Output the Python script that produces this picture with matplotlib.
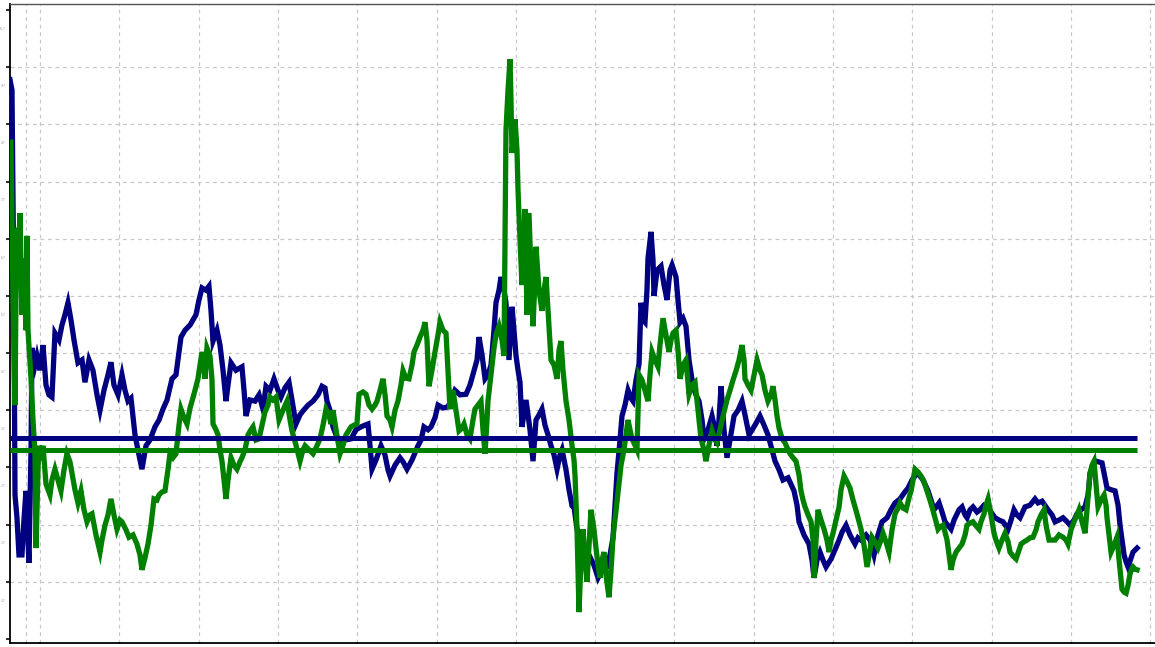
import matplotlib
matplotlib.use("Agg")
import matplotlib.pyplot as plt
import numpy as np

# time axis in years from the first full-year tick; values in chart units
navy_t = [-0.378, -0.353, -0.328, -0.315, -0.290, -0.265, -0.227, -0.202, -0.177, -0.151, -0.139, -0.113, -0.101,
          -0.063, -0.038, 0.000, 0.038, 0.076, 0.113, 0.151, 0.189, 0.240, 0.277, 0.315, 0.353, 0.391, 0.429, 0.479,
          0.530, 0.567, 0.618, 0.668, 0.719, 0.757, 0.807, 0.858, 0.895, 0.933, 0.984, 1.034, 1.072, 1.110, 1.148,
          1.198, 1.248, 1.286, 1.337, 1.387, 1.450, 1.501, 1.551, 1.602, 1.665, 1.715, 1.778, 1.829, 1.892, 1.967,
          2.005, 2.043, 2.093, 2.131, 2.156, 2.182, 2.232, 2.270, 2.308, 2.346, 2.371, 2.409, 2.472, 2.547, 2.573,
          2.598, 2.648, 2.711, 2.762, 2.812, 2.850, 2.900, 2.951, 3.001, 3.039, 3.089, 3.140, 3.178, 3.228, 3.279,
          3.317, 3.380, 3.443, 3.506, 3.556, 3.594, 3.619, 3.657, 3.695, 3.733, 3.783, 3.846, 3.922, 3.985, 4.048,
          4.098, 4.136, 4.161, 4.187, 4.237, 4.300, 4.350, 4.388, 4.414, 4.477, 4.540, 4.578, 4.628, 4.691, 4.767,
          4.805, 4.842, 4.893, 4.931, 4.981, 5.019, 5.082, 5.145, 5.195, 5.233, 5.296, 5.372, 5.422, 5.473, 5.511,
          5.536, 5.574, 5.612, 5.649, 5.687, 5.725, 5.750, 5.788, 5.813, 5.851, 5.876, 5.914, 5.952, 5.977, 6.003,
          6.028, 6.053, 6.078, 6.129, 6.179, 6.217, 6.255, 6.293, 6.330, 6.368, 6.406, 6.444, 6.482, 6.520, 6.557,
          6.583, 6.633, 6.671, 6.709, 6.734, 6.772, 6.822, 6.873, 6.923, 6.986, 7.037, 7.087, 7.150, 7.188, 7.226,
          7.276, 7.314, 7.339, 7.377, 7.415, 7.453, 7.478, 7.516, 7.554, 7.579, 7.604, 7.629, 7.654, 7.667, 7.705,
          7.730, 7.743, 7.781, 7.831, 7.869, 7.907, 7.945, 7.970, 8.020, 8.045, 8.071, 8.108, 8.146, 8.184, 8.235,
          8.272, 8.310, 8.348, 8.373, 8.424, 8.474, 8.512, 8.537, 8.562, 8.588, 8.625, 8.663, 8.701, 8.752, 8.802,
          8.852, 8.890, 8.941, 9.016, 9.079, 9.130, 9.180, 9.231, 9.269, 9.319, 9.369, 9.433, 9.508, 9.546, 9.571,
          9.634, 9.697, 9.735, 9.760, 9.798, 9.836, 9.874, 9.912, 9.975, 10.025, 10.076, 10.114, 10.164, 10.214,
          10.277, 10.315, 10.353, 10.416, 10.467, 10.517, 10.567, 10.618, 10.681, 10.731, 10.782, 10.845, 10.895,
          10.946, 10.996, 11.059, 11.097, 11.135, 11.198, 11.236, 11.274, 11.337, 11.375, 11.412, 11.488, 11.526,
          11.589, 11.627, 11.665, 11.690, 11.728, 11.765, 11.816, 11.854, 11.904, 11.955, 11.992, 12.043, 12.093,
          12.144, 12.207, 12.245, 12.282, 12.320, 12.358, 12.421, 12.484, 12.547, 12.585, 12.636, 12.711, 12.762,
          12.800, 12.850, 12.900, 12.951, 12.989, 13.039, 13.077, 13.127, 13.178, 13.216, 13.241, 13.279, 13.317,
          13.392, 13.430, 13.455, 13.506, 13.556, 13.594, 13.619, 13.644, 13.670, 13.695, 13.720, 13.758, 13.783,
          13.834]
navy_v = [9.78, 9.60, 5.93, 2.52, 2.12, 1.47, 1.47, 2.08, 2.59, 1.73, 1.33, 3.31, 5.09,
          4.79, 4.95, 4.70, 5.14, 4.44, 4.27, 4.23, 5.35, 5.23, 5.49, 5.67, 5.88, 5.58, 5.23, 4.83,
          4.88, 4.49, 4.88, 4.70, 4.27, 4.00, 4.35, 4.62, 4.84, 4.44, 4.27, 4.62, 4.35, 4.16, 4.21,
          3.57, 3.22, 2.97, 3.38, 3.48, 3.71, 3.83, 4.02, 4.18, 4.55, 4.62, 5.28, 5.40, 5.49, 5.67,
          5.93, 6.14, 6.10, 6.17, 5.75, 5.21, 5.40, 5.14, 4.70, 4.16, 4.44, 4.83, 4.70, 4.76, 4.35,
          3.90, 4.18, 4.16, 4.27, 4.02, 4.42, 4.35, 4.55, 4.35, 4.23, 4.39, 4.49, 4.18, 3.76, 3.92,
          3.99, 4.09, 4.16, 4.27, 4.42, 4.39, 4.16, 4.00, 3.71, 3.57, 3.43, 3.48, 3.50, 3.66, 3.71,
          3.74, 3.76, 3.39, 2.97, 3.13, 3.38, 3.22, 2.96, 2.85, 3.04, 3.17, 3.10, 2.97, 3.13, 3.38,
          3.48, 3.71, 3.66, 3.71, 3.87, 4.09, 4.04, 4.06, 4.21, 4.35, 4.27, 4.28, 4.44, 4.69, 4.88,
          5.28, 4.97, 4.55, 4.62, 4.79, 5.40, 5.88, 6.10, 6.33, 6.10, 5.88, 4.88, 5.81, 5.40, 4.95,
          4.70, 4.49, 3.71, 4.18, 3.66, 3.11, 3.83, 3.92, 4.02, 3.74, 3.57, 3.38, 3.22, 2.97, 3.22,
          3.31, 2.96, 2.61, 2.33, 2.31, 1.92, 1.64, 1.56, 1.47, 1.29, 1.07, 1.21, 1.26, 1.47, 1.78,
          2.90, 3.48, 3.90, 4.09, 4.35, 4.21, 4.16, 4.53, 4.81, 5.88, 5.58, 5.54, 6.10, 6.66, 7.12,
          6.63, 6.00, 6.45, 6.52, 6.19, 5.93, 6.45, 6.54, 6.33, 5.93, 5.54, 5.61, 5.47, 4.88, 4.42,
          4.27, 4.16, 3.83, 3.50, 3.66, 3.90, 3.66, 3.38, 3.83, 4.42, 3.66, 3.17, 3.48, 3.90, 4.00,
          4.16, 3.92, 3.57, 3.74, 3.90, 3.74, 3.57, 3.31, 3.11, 2.96, 2.78, 2.82, 2.59, 2.34, 2.05,
          1.82, 1.66, 1.38, 1.07, 1.38, 1.52, 1.38, 1.26, 1.40, 1.56, 1.73, 1.87, 1.99, 1.82,
          1.66, 1.77, 1.73, 1.82, 1.73, 1.47, 1.82, 2.05, 2.12, 2.26, 2.38, 2.45, 2.55,
          2.64, 2.78, 2.90, 2.85, 2.78, 2.59, 2.43, 2.26, 2.38, 2.22, 2.05, 1.92, 2.08,
          2.26, 2.31, 2.17, 2.12, 2.26, 2.31, 2.22, 2.26, 2.34, 2.31, 2.22, 2.12, 2.08,
          2.05, 1.92, 2.08, 2.26, 2.17, 2.12, 2.31, 2.34, 2.45, 2.38, 2.41, 2.26, 2.17,
          2.05, 2.08, 2.12, 2.05, 1.99, 2.08, 2.19, 2.26, 2.31, 2.52, 2.90, 3.04, 3.11,
          3.08, 2.82, 2.64, 2.61, 2.59, 2.34, 1.99, 1.73, 1.47, 1.35, 1.26, 1.42, 1.52,
          1.59]

green_t = [-0.366, -0.340, -0.315, -0.303, -0.290, -0.265, -0.252, -0.227, -0.202, -0.177, -0.164, -0.151, -0.113,
           -0.088, -0.063, -0.050, -0.025, -0.013, 0.013, 0.038, 0.076, 0.126, 0.151, 0.189, 0.227, 0.265, 0.303,
           0.340, 0.378, 0.404, 0.441, 0.479, 0.517, 0.555, 0.593, 0.631, 0.656, 0.706, 0.757, 0.782, 0.820, 0.858,
           0.895, 0.933, 0.971, 1.009, 1.034, 1.084, 1.122, 1.173, 1.223, 1.261, 1.286, 1.324, 1.362, 1.400, 1.438,
           1.475, 1.501, 1.538, 1.576, 1.614, 1.639, 1.677, 1.715, 1.753, 1.778, 1.816, 1.854, 1.892, 1.917, 1.955,
           1.992, 2.018, 2.043, 2.068, 2.081, 2.106, 2.144, 2.169, 2.182, 2.219, 2.245, 2.270, 2.295, 2.320, 2.346,
           2.371, 2.409, 2.446, 2.484, 2.522, 2.547, 2.585, 2.623, 2.661, 2.686, 2.724, 2.762, 2.800, 2.837, 2.875,
           2.900, 2.938, 2.976, 3.014, 3.064, 3.115, 3.153, 3.178, 3.228, 3.279, 3.317, 3.342, 3.392, 3.443, 3.480,
           3.531, 3.569, 3.607, 3.644, 3.670, 3.695, 3.733, 3.783, 3.821, 3.859, 3.922, 3.960, 3.997, 4.023, 4.073,
           4.111, 4.149, 4.187, 4.224, 4.250, 4.288, 4.325, 4.351, 4.376, 4.414, 4.439, 4.477, 4.514, 4.552, 4.578,
           4.615, 4.653, 4.691, 4.716, 4.754, 4.792, 4.830, 4.855, 4.880, 4.905, 4.943, 4.981, 5.019, 5.044, 5.082,
           5.120, 5.145, 5.170, 5.208, 5.246, 5.284, 5.322, 5.347, 5.385, 5.422, 5.460, 5.485, 5.523, 5.561, 5.586,
           5.612, 5.637, 5.649, 5.687, 5.725, 5.750, 5.788, 5.826, 5.851, 5.876, 5.902, 5.927, 5.939, 5.952, 5.977,
           5.990, 6.015, 6.028, 6.053, 6.078, 6.103, 6.116, 6.129, 6.141, 6.166, 6.192, 6.217, 6.242, 6.255, 6.293,
           6.330, 6.356, 6.381, 6.406, 6.444, 6.482, 6.520, 6.545, 6.570, 6.595, 6.633, 6.671, 6.709, 6.734, 6.747,
           6.772, 6.797, 6.822, 6.847, 6.873, 6.898, 6.923, 6.948, 6.986, 7.011, 7.037, 7.062, 7.087, 7.112, 7.137,
           7.175, 7.201, 7.226, 7.264, 7.301, 7.327, 7.364, 7.390, 7.415, 7.440, 7.465, 7.503, 7.528, 7.554, 7.591,
           7.629, 7.667, 7.692, 7.718, 7.755, 7.793, 7.818, 7.856, 7.894, 7.932, 7.957, 7.982, 8.020, 8.045, 8.071,
           8.108, 8.146, 8.184, 8.222, 8.260, 8.298, 8.335, 8.373, 8.398, 8.436, 8.474, 8.512, 8.537, 8.575, 8.613,
           8.663, 8.701, 8.739, 8.777, 8.815, 8.852, 8.878, 8.890, 8.928, 8.966, 9.004, 9.042, 9.079, 9.105, 9.142,
           9.180, 9.218, 9.243, 9.269, 9.294, 9.319, 9.344, 9.369, 9.395, 9.433, 9.458, 9.496, 9.533, 9.571, 9.596,
           9.622, 9.647, 9.685, 9.723, 9.748, 9.760, 9.786, 9.811, 9.849, 9.887, 9.924, 9.950, 9.975, 10.000,
           10.038, 10.076, 10.101, 10.139, 10.177, 10.214, 10.252, 10.277, 10.315, 10.353, 10.391, 10.429, 10.467,
           10.492, 10.530, 10.567, 10.605, 10.630, 10.668, 10.706, 10.744, 10.782, 10.820, 10.845, 10.883, 10.921,
           10.958, 10.984, 11.009, 11.034, 11.072, 11.110, 11.148, 11.173, 11.211, 11.248, 11.286, 11.324, 11.349,
           11.387, 11.412, 11.438, 11.463, 11.488, 11.513, 11.551, 11.589, 11.627, 11.665, 11.690, 11.728, 11.765,
           11.803, 11.841, 11.866, 11.904, 11.929, 11.955, 11.992, 12.030, 12.055, 12.093, 12.131, 12.169, 12.207,
           12.232, 12.270, 12.308, 12.346, 12.371, 12.409, 12.446, 12.484, 12.522, 12.560, 12.585, 12.623, 12.661,
           12.686, 12.724, 12.762, 12.800, 12.850, 12.900, 12.938, 12.963, 13.001, 13.039, 13.077, 13.102, 13.140,
           13.178, 13.203, 13.241, 13.266, 13.291, 13.317, 13.342, 13.380, 13.418, 13.443, 13.455, 13.480, 13.506,
           13.544, 13.581, 13.607, 13.644, 13.670, 13.695, 13.720, 13.745, 13.771, 13.783, 13.809, 13.834]
green_v = [8.69, 5.93, 4.09, 5.93, 7.19, 6.98, 7.45, 5.67, 6.66, 5.40, 7.05, 5.40, 4.55,
           3.83, 3.24, 1.59, 2.96, 3.38, 3.13, 3.38, 2.71, 2.52, 2.78, 2.97, 2.78, 2.59, 2.96,
           3.24, 3.10, 2.90, 2.61, 2.38, 2.59, 2.26, 2.05, 2.17, 2.19, 1.82, 1.52, 1.73, 1.99, 2.17,
           2.45, 2.17, 1.92, 2.08, 2.05, 1.91, 1.78, 1.82, 1.66, 1.47, 1.21, 1.42, 1.66, 1.99, 2.45,
           2.43, 2.52, 2.57, 2.59, 2.96, 3.24, 3.17, 3.24, 3.74, 4.02, 3.87, 3.76, 4.04, 4.16, 4.35,
           4.55, 4.79, 5.02, 4.70, 4.55, 5.09, 4.95, 4.53, 3.76, 3.66, 3.57, 3.31, 3.11, 2.78, 2.45,
           2.78, 3.17, 3.04, 2.97, 3.10, 3.17, 3.31, 3.57, 3.66, 3.71, 3.48, 3.50, 3.74, 3.97, 4.09,
           4.23, 4.18, 4.23, 3.83, 4.00, 4.16, 3.83, 3.64, 3.39, 3.11, 3.31, 3.38, 3.31, 3.24, 3.34,
           3.50, 3.74, 4.02, 3.92, 3.76, 4.00, 3.66, 3.24, 3.39, 3.57, 3.71, 3.74, 3.76, 4.28, 4.32,
           4.28, 4.09, 4.02, 4.09, 4.16, 4.35, 4.55, 4.27, 3.90, 3.83, 3.71, 4.00, 4.16, 4.44, 4.69,
           4.56, 4.55, 4.79, 5.02, 5.14, 5.28, 5.40, 5.54, 5.23, 4.42, 4.70, 5.02, 5.32, 5.54, 5.40,
           5.35, 4.70, 4.02, 4.35, 4.00, 3.64, 3.69, 3.76, 3.57, 3.50, 3.83, 4.02, 4.09, 4.16, 3.66,
           3.24, 3.83, 4.16, 4.62, 5.09, 5.32, 5.47, 5.23, 4.95, 8.90, 9.60, 10.14, 9.43, 8.50, 8.90,
           9.09, 8.55, 7.85, 6.98, 6.19, 6.98, 7.52, 6.63, 5.67, 7.45, 6.45, 5.47, 6.28, 6.86, 6.10,
           5.74, 6.10, 6.33, 5.75, 4.88, 4.79, 4.55, 5.05, 5.21, 4.70, 4.16, 3.83, 3.38, 3.13, 2.85,
           1.91, 0.47, 1.38, 1.92, 1.38, 1.00, 1.64, 2.26, 1.91, 1.59, 1.29, 1.07, 1.38, 1.52, 1.12,
           0.73, 1.21, 1.78, 2.26, 2.71, 3.04, 3.31, 3.57, 3.83, 3.66, 3.50, 3.39, 3.31, 4.62, 4.53,
           4.35, 4.16, 4.62, 5.02, 4.88, 4.76, 5.14, 5.61, 5.32, 5.02, 5.23, 5.35, 5.40, 5.05, 4.55,
           4.79, 4.88, 4.28, 4.44, 4.49, 4.00, 3.50, 3.31, 3.11, 3.39, 3.64, 3.48, 3.43, 3.66, 3.90,
           4.18, 4.35, 4.53, 4.69, 4.88, 5.14, 4.88, 4.55, 4.44, 4.35, 4.62, 4.88, 4.70, 4.62, 4.35,
           4.16, 4.27, 4.42, 4.18, 3.90, 3.69, 3.57, 3.48, 3.43, 3.31, 3.24, 3.17, 3.11, 2.87, 2.59,
           2.43, 2.31, 2.17, 2.05, 1.73, 1.07, 1.73, 2.26, 2.08, 1.92, 1.73, 1.52, 1.73, 1.85,
           2.08, 2.31, 2.61, 2.85, 2.75, 2.64, 2.43, 2.31, 2.12, 1.92, 1.64, 1.26, 1.56,
           1.78, 1.70, 1.59, 1.73, 1.85, 1.70, 1.52, 1.91, 2.19, 2.29, 2.38, 2.29, 2.26,
           2.47, 2.59, 2.78, 2.97, 2.92, 2.85, 2.75, 2.64, 2.48, 2.31, 2.12, 1.92, 1.96,
           1.99, 1.87, 1.73, 1.47, 1.21, 1.38, 1.52, 1.59, 1.66, 1.82, 1.99, 2.03, 2.05,
           1.98, 1.92, 2.05, 2.19, 2.34, 2.45, 2.17, 1.85, 1.73, 1.59, 1.73, 1.85, 1.70,
           1.52, 1.45, 1.40, 1.56, 1.66, 1.70, 1.73, 1.77, 1.78, 1.91, 2.05, 2.17, 2.26,
           1.99, 1.73, 1.73, 1.73, 1.82, 1.78, 1.73, 1.66, 1.91, 2.05, 2.17, 2.26, 2.05,
           1.85, 2.26, 2.90, 3.04, 3.11, 2.69, 2.31, 2.43, 2.52, 2.34, 2.12, 1.82, 1.52,
           1.64, 1.78, 1.38, 0.87, 0.82, 0.80, 0.94, 1.14, 1.24, 1.26, 1.22, 1.21]

# reference levels drawn across the full span
navy_level = 3.52
green_level = 3.31

year_ticks = [-0.177, 0, 1, 2, 3, 4, 5, 6, 7, 8, 9, 10, 11, 12, 13, 14]

fig = plt.figure(figsize=(11.55, 6.47), dpi=100)
ax = fig.add_axes([10 / 1155, 4 / 647, 1 - 10 / 1155, 639 / 647])

ax.plot(navy_t, navy_v, color="#000080", lw=3.8, solid_joinstyle="miter", zorder=3)
ax.plot(green_t, green_v, color="#008000", lw=3.8, solid_joinstyle="miter", zorder=4)
ax.hlines(navy_level, navy_t[0], navy_t[-1], color="#000080", lw=3.6, zorder=5)
ax.hlines(green_level, navy_t[0], navy_t[-1], color="#008000", lw=3.6, zorder=5)

ax.set_xlim(-0.378, 14.06)
ax.set_ylim(-0.07, 11.105)

ax.set_xticks(year_ticks)
ax.set_xticklabels([])
ax.set_yticks(range(12))
ax.set_yticklabels([])
ax.set_yticks([k - 0.32 for k in range(1, 12)], minor=True)
ax.set_yticklabels(["%.1f" % (k - 0.32) for k in range(1, 12)], minor=True)
ax.tick_params(axis="y", which="major", length=3, width=1.5, color="#333333", direction="out")
ax.tick_params(axis="y", which="minor", length=0, labelsize=2.2, labelcolor="#999999", pad=3)
ax.tick_params(axis="x", which="major", length=2, width=1.5, color="#666666", direction="inout")

for k in range(1, 11):
    ax.axhline(k, color="#c8c8c8", lw=0.9, ls=(0, (3, 3)), zorder=1)
for t in year_ticks:
    ax.axvline(t, color="#c8c8c8", lw=0.9, ls=(0, (3, 3)), zorder=1)

for side in ("left", "bottom"):
    ax.spines[side].set_color("black")
    ax.spines[side].set_linewidth(1.3)
ax.spines["top"].set_color("#555555")
ax.spines["top"].set_linewidth(1.0)
ax.spines["right"].set_visible(False)

fig.savefig("out.png", dpi=100)
